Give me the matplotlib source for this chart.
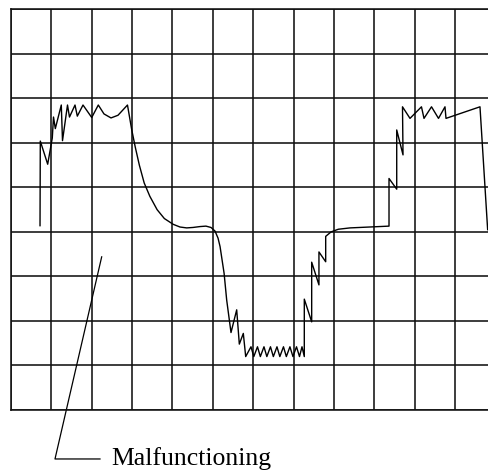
import matplotlib
matplotlib.use("Agg")
import matplotlib.pyplot as plt

# ── Data (in screen divisions: x 0..12, y 0..9) ──────────────────────────────

wave_x = [0.719, 0.726, 0.909, 1.023, 1.053, 1.098, 1.246, 1.276, 1.400, 1.449,
          1.586, 1.643, 1.784, 2.000, 2.163, 2.304, 2.478, 2.651, 2.886,
          2.990, 3.080, 3.180, 3.300, 3.440, 3.620, 3.800, 4.020, 4.187, 4.353, 4.510,
          4.683, 4.830, 4.955, 5.054, 5.130, 5.180, 5.280, 5.344, 5.451,
          5.592, 5.657, 5.756, 5.815,
          5.946, 6.016, 6.107, 6.178, 6.268, 6.339, 6.429, 6.500, 6.590, 6.661,
          6.751, 6.822, 6.911, 6.986, 7.074, 7.148, 7.210, 7.267,
          7.267, 7.450, 7.450, 7.630, 7.630, 7.797, 7.797, 7.930, 8.110, 8.400,
          9.366, 9.366, 9.557, 9.557, 9.713, 9.700,
          9.886, 10.170, 10.233, 10.419, 10.592, 10.753, 10.778, 11.620, 11.810]
wave_y = [4.14, 6.04, 5.52, 6.11, 6.58, 6.32, 6.85, 6.05, 6.85, 6.58,
          6.85, 6.60, 6.85, 6.57, 6.85, 6.65, 6.56, 6.62, 6.85,
          6.30, 5.90, 5.50, 5.10, 4.80, 4.50, 4.30, 4.17, 4.11, 4.09, 4.10,
          4.12, 4.13, 4.10, 4.02, 3.86, 3.67, 3.07, 2.47, 1.74,
          2.25, 1.48, 1.72, 1.20,
          1.42, 1.20, 1.42, 1.20, 1.42, 1.20, 1.42, 1.20, 1.42, 1.20,
          1.42, 1.20, 1.42, 1.20, 1.42, 1.20, 1.42, 1.20,
          2.49, 1.98, 3.32, 2.81, 3.55, 3.33, 3.90, 4.00, 4.06, 4.09,
          4.13, 5.20, 4.96, 6.29, 5.73, 6.81,
          6.55, 6.81, 6.55, 6.81, 6.55, 6.81, 6.55, 6.81, 4.05]

pointer_x = [2.247, 1.090, 2.205]
pointer_y = [3.44, -1.10, -1.10]
label = "Malfunctioning"
label_pos = (2.495, -1.10)

n_cols, n_rows = 12, 9

# ── Figure ────────────────────────────────────────────────────────────────────

fig = plt.figure(figsize=(4.88, 4.73), dpi=100)
ax = fig.add_axes([11 / 488, 1 - 410 / 473, n_cols * 40.36 / 488, 400.7 / 473])
ax.set_xlim(0, n_cols)
ax.set_ylim(0, n_rows)
ax.set_xticks(range(n_cols + 1))
ax.set_yticks(range(n_rows + 1))
ax.tick_params(length=0, labelbottom=False, labelleft=False)
ax.grid(True, color="#111111", linewidth=1.15)
for s in ax.spines.values():
    s.set_color("#111111")
    s.set_linewidth(1.15)

ax.plot(wave_x, wave_y, color="black", linewidth=1.0)
ax.plot(pointer_x, pointer_y, color="black", linewidth=0.9, clip_on=False)
ax.text(label_pos[0], label_pos[1], label, family="Liberation Serif",
        fontsize=18.5, va="center", ha="left", clip_on=False)

fig.savefig("out.png", dpi=100)
